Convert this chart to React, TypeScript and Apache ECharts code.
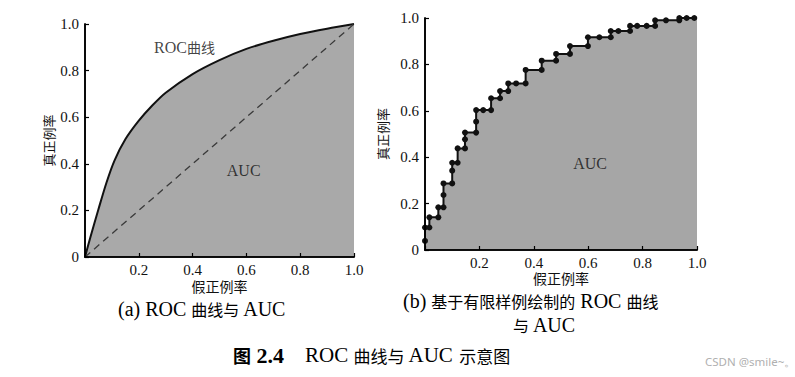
import React, { useEffect, useRef } from "react";
import * as echarts from "echarts";

// Left panel: smooth ROC curve
const rocFPR = [0, 0.02, 0.05, 0.08, 0.11, 0.15, 0.2, 0.25, 0.3, 0.4, 0.5, 0.6, 0.7, 0.8, 0.9, 1.0];
const rocTPR = [0, 0.085, 0.205, 0.32, 0.415, 0.505, 0.585, 0.65, 0.705, 0.785, 0.845, 0.893, 0.928, 0.957, 0.98, 1.0];
const diagFPR = [0, 1];
const diagTPR = [0, 1];

// Right panel: ROC curve from finite samples (step corners)
const stepFPR = [0, 0, 0.016, 0.016, 0.049, 0.049, 0.068, 0.068, 0.068, 0.1, 0.1, 0.1, 0.12, 0.12, 0.147, 0.147, 0.147, 0.188, 0.188, 0.188, 0.214, 0.243, 0.243, 0.276, 0.276, 0.306, 0.306, 0.335, 0.37, 0.37, 0.429, 0.429, 0.482, 0.482, 0.533, 0.533, 0.599, 0.599, 0.641, 0.683, 0.683, 0.711, 0.754, 0.754, 0.78, 0.815, 0.846, 0.846, 0.886, 0.935, 0.935, 0.962, 0.99];
const stepTPR = [0.039, 0.097, 0.097, 0.141, 0.141, 0.184, 0.184, 0.237, 0.287, 0.287, 0.342, 0.376, 0.376, 0.438, 0.438, 0.477, 0.506, 0.506, 0.553, 0.603, 0.603, 0.603, 0.654, 0.654, 0.685, 0.685, 0.718, 0.718, 0.718, 0.776, 0.776, 0.816, 0.816, 0.845, 0.845, 0.879, 0.879, 0.917, 0.917, 0.917, 0.944, 0.944, 0.944, 0.966, 0.966, 0.966, 0.966, 0.99, 0.99, 0.99, 1, 1, 1];

const xAxisName = "假正例率";
const yAxisName = "真正例率";
const aucLabel = "AUC";
const watermark = "CSDN @smile~。";

const SERIF = "'Liberation Serif', 'DejaVu Serif', serif";
const CJKF = "'Noto Sans CJK SC', sans-serif";

export default function App() {
  const ref = useRef<HTMLDivElement>(null);
  useEffect(() => {
    if (!ref.current) return;
    const chart = echarts.init(ref.current, undefined, { renderer: "svg" });
    const fmt = (v: number) => (v === 0 ? "0" : v.toFixed(1));
    const bottomAxis = (gridIndex: number, gap: number) => ({
      type: "value",
      gridIndex,
      min: 0,
      max: 1,
      interval: 0.2,
      position: "bottom",
      name: xAxisName,
      nameLocation: "middle",
      nameGap: gap,
      nameMoveOverlap: false,
      nameTextStyle: { fontFamily: CJKF, fontSize: 14, color: "#111" },
      axisLine: { show: true, lineStyle: { color: "#000", width: 1.6 } },
      axisTick: { show: true, inside: true, length: 4, lineStyle: { color: "#000", width: 1.2 } },
      axisLabel: {
        fontFamily: SERIF,
        fontSize: 15,
        color: "#111",
        margin: 5,
        formatter: (v: number) => (v === 0 ? "" : fmt(v)),
      },
      splitLine: { show: false },
      z: 5,
    });
    const topAxis = (gridIndex: number) => ({
      type: "value",
      gridIndex,
      min: 0,
      max: 1,
      position: "top",
      axisLine: { show: true, lineStyle: { color: "#000", width: 1.6 } },
      axisTick: { show: false },
      axisLabel: { show: false },
      splitLine: { show: false },
      z: 5,
    });
    const leftAxis = (gridIndex: number, gap: number) => ({
      type: "value",
      gridIndex,
      min: 0,
      max: 1,
      interval: 0.2,
      position: "left",
      name: yAxisName,
      nameLocation: "middle",
      nameGap: gap,
      nameMoveOverlap: false,
      nameRotate: 90,
      nameTextStyle: { fontFamily: CJKF, fontSize: 13, color: "#111" },
      axisLine: { show: true, lineStyle: { color: "#000", width: 1.6 } },
      axisTick: { show: true, inside: true, length: 4, lineStyle: { color: "#000", width: 1.2 } },
      axisLabel: { fontFamily: SERIF, fontSize: 15, color: "#111", margin: 6, formatter: fmt },
      splitLine: { show: false },
      z: 5,
    });
    const rightAxis = (gridIndex: number) => ({
      type: "value",
      gridIndex,
      min: 0,
      max: 1,
      position: "right",
      axisLine: { show: true, lineStyle: { color: "#000", width: 1.6 } },
      axisTick: { show: false },
      axisLabel: { show: false },
      splitLine: { show: false },
      z: 5,
    });

    const rocData = rocFPR.map((x, i) => [x, rocTPR[i]]);
    const diagData = diagFPR.map((x, i) => [x, diagTPR[i]]);
    const stepData: any[] = stepFPR.map((x, i) => [x, stepTPR[i]]);
    stepData.push({ value: [1, 1], symbol: "none" });

    const rich = {
      l: { fontFamily: SERIF, fontSize: 20, color: "#111" },
      c: { fontFamily: CJKF, fontSize: 16, color: "#111" },
      tl: { fontFamily: SERIF, fontSize: 21, color: "#111" },
      tc: { fontFamily: CJKF, fontSize: 17, color: "#111" },
      lb: { fontFamily: SERIF, fontSize: 22, fontWeight: "bold", color: "#111" },
      cb: { fontFamily: CJKF, fontSize: 18, fontWeight: "bold", color: "#111" },
      sl: { fontFamily: SERIF, fontSize: 16, color: "#111" },
      sc: { fontFamily: CJKF, fontSize: 14, color: "#111" },
    };

    const textSeries = (xi: number, yi: number, x: number, y: number, text: string) => ({
      type: "scatter",
      xAxisIndex: xi,
      yAxisIndex: yi,
      data: [[x, y]],
      symbolSize: 0,
      silent: true,
      z: 10,
      label: { show: true, position: "inside", formatter: text, rich },
    });

    const gtext = (left: number, top: number, text: string) => ({
      type: "text",
      left,
      top,
      style: { text, rich },
    });

    chart.setOption({
      animation: false,
      backgroundColor: "#ffffff",
      grid: [
        { left: 85, top: 24, width: 269, height: 233, show: false },
        { left: 425, top: 18, width: 272, height: 232, show: false },
      ],
      xAxis: [bottomAxis(0, 22), topAxis(0), bottomAxis(1, 21), topAxis(1)],
      yAxis: [leftAxis(0, 30), rightAxis(0), leftAxis(1, 36), rightAxis(1)],
      series: [
        {
          type: "line",
          xAxisIndex: 0,
          yAxisIndex: 0,
          data: rocData,
          smooth: 0.3,
          symbol: "none",
          lineStyle: { color: "#111", width: 2 },
          areaStyle: { color: "#a9a9a9", opacity: 1 },
          z: 2,
        },
        {
          type: "line",
          xAxisIndex: 0,
          yAxisIndex: 0,
          data: diagData,
          symbol: "none",
          lineStyle: { color: "#3a3a3a", width: 1.3, type: [7, 5] },
          z: 3,
        },
        {
          type: "line",
          xAxisIndex: 2,
          yAxisIndex: 2,
          data: stepData,
          symbol: "circle",
          symbolSize: 6,
          itemStyle: { color: "#111" },
          lineStyle: { color: "#111", width: 2 },
          areaStyle: { color: "#a6a6a6", opacity: 1 },
          z: 3,
        },
        textSeries(0, 0, 0.37, 0.9, "{sl|ROC}{sc|曲线}"),
        textSeries(0, 0, 0.59, 0.37, "{sl|" + aucLabel + "}"),
        textSeries(2, 2, 0.607, 0.375, "{sl|" + aucLabel + "}"),
      ],
      graphic: [
        gtext(118, 299, "{l|(a) ROC }{c|曲线与}{l| AUC}"),
        gtext(403, 291, "{l|(b) }{c|基于有限样例绘制的}{l| ROC }{c|曲线}"),
        gtext(513, 315, "{c|与}{l| AUC}"),
        gtext(233, 344, "{cb|图}{lb| 2.4}{tl|    ROC }{tc|曲线与}{tl| AUC }{tc|示意图}"),
        {
          type: "text",
          left: 705,
          top: 355,
          style: { text: watermark, fontFamily: "'Noto Sans', sans-serif", fontSize: 11.5, fill: "#b0b0b0" },
        },
      ],
    });
    return () => chart.dispose();
  }, []);
  return (
    <div
      ref={ref}
      style={{ position: "fixed", left: 0, top: 0, width: 795, height: 377, background: "#fff" }}
    />
  );
}
